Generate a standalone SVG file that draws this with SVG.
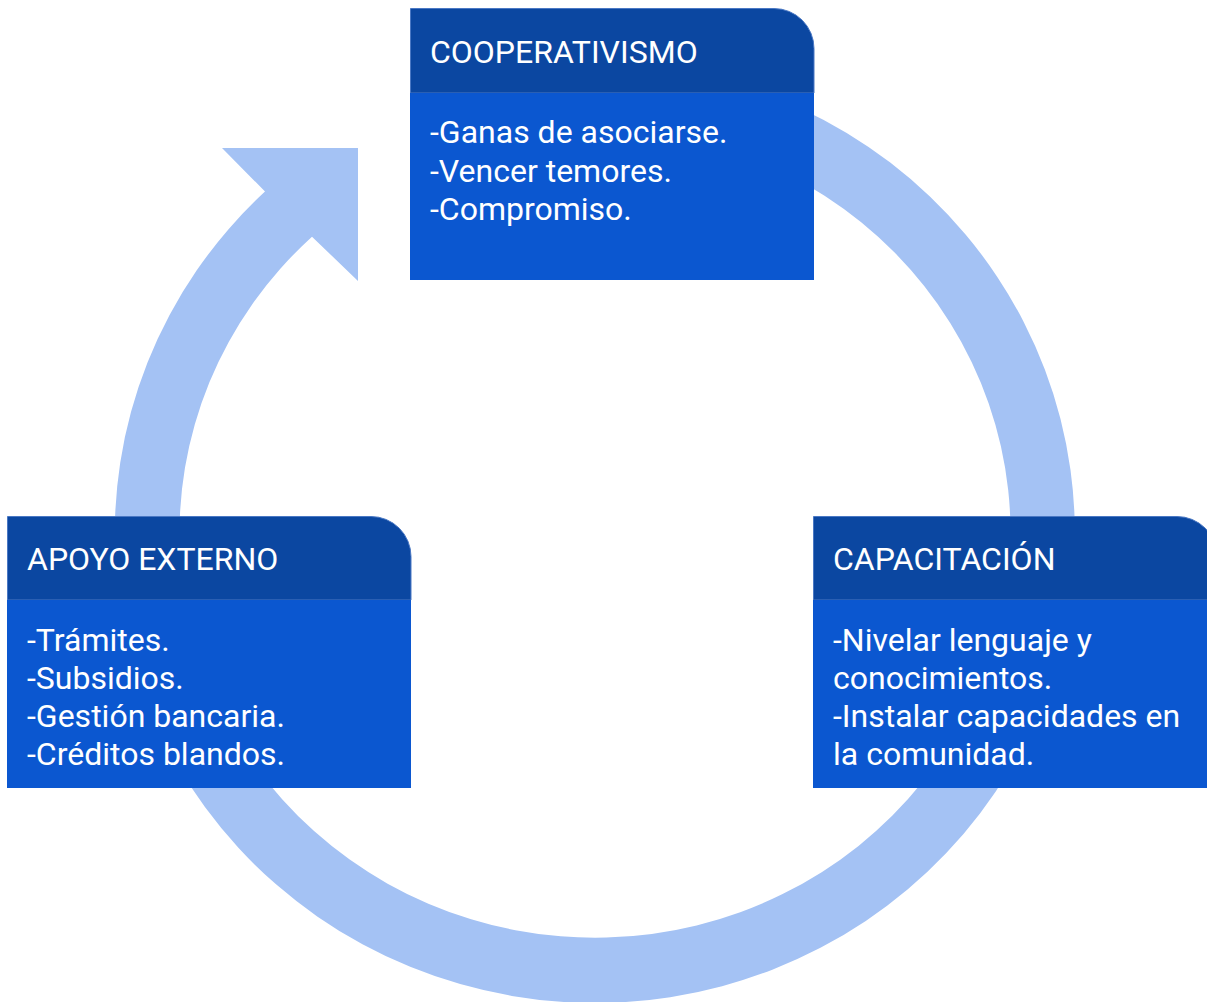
<svg xmlns="http://www.w3.org/2000/svg" width="1207" height="1002" viewBox="0 0 1207 1002">
  <style>
    .ring { fill: #A4C2F4; }
    .hdr { fill: #0B47A1; stroke: #4a78c4; stroke-width: 1; }
    .body { fill: #0B57D0; }
    .t { font-family: Roboto, "Liberation Sans", sans-serif; fill: #FFFFFF; }
    .ht { font-size: 32px; }
    .bt { font-size: 32px; }
  </style>
  <g id="connectors">
    <path class="ring" d="M 700 74.4 A 480 470 0 1 1 265 191.5 L 222 148 L 358 148 L 358 281 L 312 236.7 A 415.5 404.7 0 1 0 700 141.4 Z"/>
  </g>
  <g id="node-cooperativismo">
    <path class="hdr" d="M 410.5 8.5 L 774 8.5 A 40 40 0 0 1 814 48.5 L 814 93 L 410.5 93 Z"/>
    <rect class="body" x="410" y="93" width="404" height="187"/>
    <text class="t ht" x="430" y="62.5">COOPERATIVISMO</text>
    <text class="t bt" x="430" y="143.3">-Ganas de asociarse.</text>
    <text class="t bt" x="430" y="181.7">-Vencer temores.</text>
    <text class="t bt" x="430" y="220">-Compromiso.</text>
  </g>
  <g id="node-apoyo-externo">
    <path class="hdr" d="M 7.5 516.5 L 371 516.5 A 40 40 0 0 1 411 556.5 L 411 600 L 7.5 600 Z"/>
    <rect class="body" x="7" y="600" width="404" height="188"/>
    <text class="t ht" x="27" y="570">APOYO EXTERNO</text>
    <text class="t bt" x="27" y="650.7">-Trámites.</text>
    <text class="t bt" x="27" y="689">-Subsidios.</text>
    <text class="t bt" x="27" y="727">-Gestión bancaria.</text>
    <text class="t bt" x="27" y="765">-Créditos blandos.</text>
  </g>
  <g id="node-capacitacion">
    <path class="hdr" d="M 813.5 516.5 L 1177 516.5 A 40 40 0 0 1 1217 556.5 L 1217 600 L 813.5 600 Z"/>
    <rect class="body" x="813" y="600" width="404" height="188"/>
    <text class="t ht" x="833" y="570">CAPACITACIÓN</text>
    <text class="t bt" x="833" y="650.7">-Nivelar lenguaje y</text>
    <text class="t bt" x="833" y="689">conocimientos.</text>
    <text class="t bt" x="833" y="727">-Instalar capacidades en</text>
    <text class="t bt" x="833" y="765">la comunidad.</text>
  </g>
</svg>
